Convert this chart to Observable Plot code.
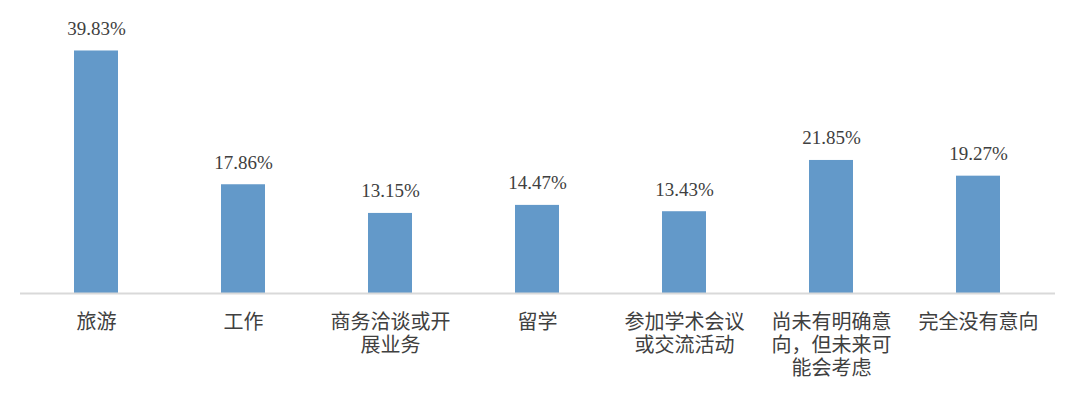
<!DOCTYPE html>
<html>
<head>
<meta charset="utf-8">
<script src="https://cdn.jsdelivr.net/npm/d3@7"></script>
<script src="https://cdn.jsdelivr.net/npm/@observablehq/plot@0.6"></script>
<style>
  body { margin: 0; background: #fff; }
  #chart svg { display: block; }
</style>
</head>
<body>
<div id="chart"></div>
<script>
const categories = ["旅游", "工作", "商务洽谈或开展业务", "留学", "参加学术会议或交流活动", "尚未有明确意向，但未来可能会考虑", "完全没有意向"];
const values = [39.83, 17.86, 13.15, 14.47, 13.43, 21.85, 19.27];

const data = categories.map((c, i) => ({category: c, value: values[i]}));

const wrap = s => {
  const parts = [];
  for (let i = 0; i < s.length; i += 6) parts.push(s.slice(i, i + 6));
  return parts.join("\n");
};

const chart = Plot.plot({
  width: 1080,
  height: 395,
  marginLeft: 20,
  marginRight: 25,
  marginTop: 19,
  marginBottom: 102,
  style: {fontFamily: "'Liberation Serif', 'Noto Sans CJK SC', serif", color: "#404040", background: "#fff"},
  x: {domain: categories, paddingInner: 0.7, paddingOuter: 0.35, label: null},
  y: {domain: [0, 45], axis: null},
  marks: [
    Plot.barY(data, {x: "category", y: "value", fill: "#6399c9"}),
    Plot.ruleY([0], {stroke: "#d9d9d9", strokeWidth: 2}),
    Plot.text(data, {x: "category", y: "value", text: d => d.value.toFixed(2) + "%", lineAnchor: "bottom", dy: -16, fontSize: 19, fill: "#404040"}),
    Plot.axisX({tickSize: 0, tickPadding: 19, fontSize: 20, lineHeight: 1.15, tickFormat: wrap, fill: "#404040", label: null})
  ]
});
document.getElementById("chart").append(chart);
</script>
</body>
</html>
